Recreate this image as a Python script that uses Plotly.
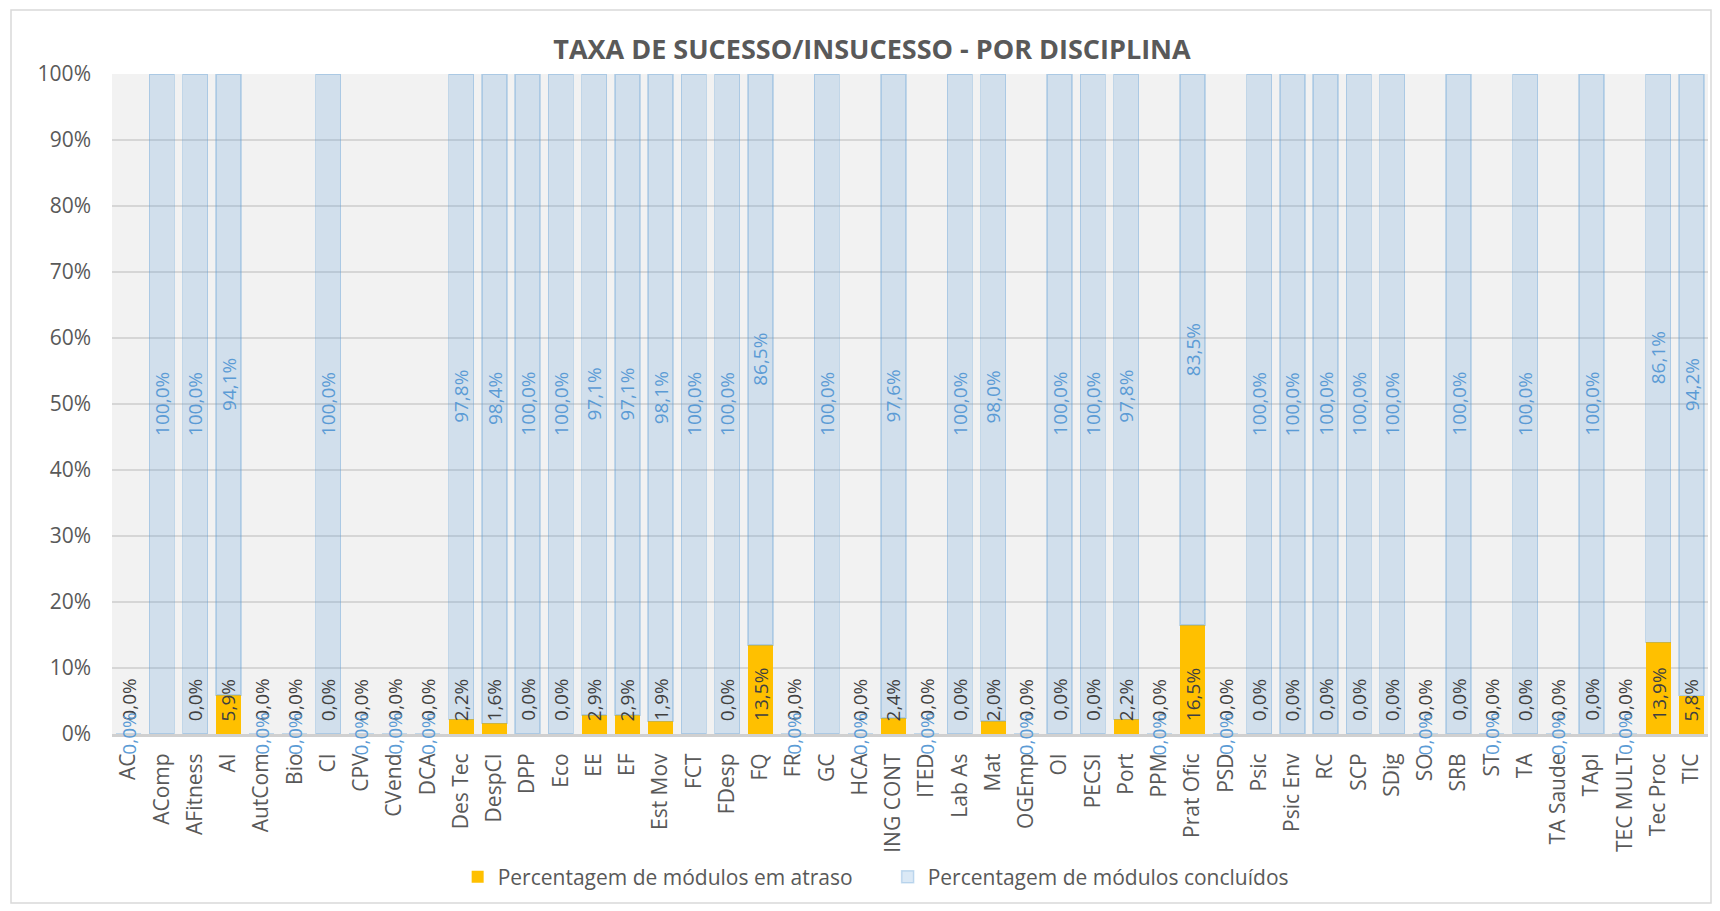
import plotly.graph_objects as go

categorias = ["AC", "AComp", "AFitness", "AI", "AutCom", "Bio", "CI", "CPV", "CVend", "DCA",
              "Des Tec", "DespCI", "DPP", "Eco", "EE", "EF", "Est Mov", "FCT", "FDesp", "FQ",
              "FR", "GC", "HCA", "ING CONT", "ITED", "Lab As", "Mat", "OGEmp", "OI", "PECSI",
              "Port", "PPM", "Prat Ofic", "PSD", "Psic", "Psic Env", "RC", "SCP", "SDig", "SO",
              "SRB", "ST", "TA", "TA Saude", "TApl", "TEC MULT", "Tec Proc", "TIC"]

atraso = [0.0, None, 0.0, 5.9, 0.0, 0.0, 0.0, 0.0, 0.0, 0.0,
          2.2, 1.6, 0.0, 0.0, 2.9, 2.9, 1.9, None, 0.0, 13.5,
          0.0, None, 0.0, 2.4, 0.0, 0.0, 2.0, 0.0, 0.0, 0.0,
          2.2, 0.0, 16.5, 0.0, 0.0, 0.0, 0.0, 0.0, 0.0, 0.0,
          0.0, 0.0, 0.0, 0.0, 0.0, 0.0, 13.9, 5.8]

concluidos = [0.0, 100.0, 100.0, 94.1, 0.0, 0.0, 100.0, 0.0, 0.0, 0.0,
              97.8, 98.4, 100.0, 100.0, 97.1, 97.1, 98.1, 100.0, 100.0, 86.5,
              0.0, 100.0, 0.0, 97.6, 0.0, 100.0, 98.0, 0.0, 100.0, 100.0,
              97.8, 0.0, 83.5, 0.0, 100.0, 100.0, 100.0, 100.0, 100.0, 0.0,
              100.0, 0.0, 100.0, 0.0, 100.0, 0.0, 86.1, 94.2]

yticks = [0, 10, 20, 30, 40, 50, 60, 70, 80, 90, 100]
ytick_labels = [f"{v}%" for v in yticks]

FONT = "Open Sans"
GREY = "#595959"
BLUE = "#5B9BD5"

W, H = 1712, 903
L, R, T, B = 104, 12, 66, 177
PW, PH = W - L - R, H - T - B


def fmt(v):
    return f"{v:.1f}".replace(".", ",") + "%"


fig = go.Figure()
fig.add_trace(go.Bar(
    x=categorias, y=[v if v is not None else 0 for v in atraso],
    name="Percentagem de módulos em atraso",
    marker=dict(color="#FFC000", line=dict(width=0)),
))
fig.add_trace(go.Bar(
    x=categorias, y=concluidos,
    name="Percentagem de módulos concluídos",
    marker=dict(color="rgba(91,155,213,0.22)",
                line=dict(color="rgba(91,155,213,0.32)", width=1.5)),
))

annotations = []
for c, a, k in zip(categorias, atraso, concluidos):
    if a is not None:
        annotations.append(dict(
            x=c, y=0, xref="x", yref="y", text=fmt(a), showarrow=False,
            textangle=-90, yanchor="bottom", xanchor="center", yshift=11,
            font=dict(family=FONT, size=19, color="#404040"),
        ))
for c, a, k in zip(categorias, atraso, concluidos):
    base = a if a is not None else 0
    annotations.append(dict(
        x=c, y=base + k / 2, xref="x", yref="y", text=fmt(k), showarrow=False,
        textangle=-90, yanchor="middle", xanchor="center",
        font=dict(family=FONT, size=19, color=BLUE),
    ))

fig.update_layout(
    width=W, height=H,
    margin=dict(l=L, r=R, t=T, b=B),
    barmode="stack", bargap=0.25,
    paper_bgcolor="white", plot_bgcolor="#F2F2F2",
    font=dict(family=FONT, size=21, color=GREY),
    title=dict(text="<b>TAXA DE SUCESSO/INSUCESSO - POR DISCIPLINA</b>",
               x=864 / W, xanchor="center", y=1 - 42 / H, yanchor="middle",
               font=dict(family=FONT, size=27, color=GREY)),
    legend=dict(orientation="h", x=0.486, xanchor="center", y=-(869 - 726) / PH,
                yanchor="middle", entrywidth=385, entrywidthmode="pixels",
                font=dict(family=FONT, size=21, color=GREY), traceorder="normal",
                itemwidth=30, bgcolor="rgba(0,0,0,0)"),
    annotations=annotations,
    shapes=[dict(type="rect", xref="paper", yref="paper",
                 x0=(3 - L) / PW, x1=(1703 - L) / PW,
                 y0=-(895 - (T + PH)) / PH, y1=((T + PH) - 2) / PH,
                 line=dict(color="#D9D9D9", width=1.5), fillcolor="rgba(0,0,0,0)",
                 layer="below")],
)
fig.update_xaxes(
    type="category", tickangle=-90, showgrid=False, ticks="",
    showline=True, linecolor="#D0D0D0", linewidth=3,
    tickfont=dict(family=FONT, size=21, color=GREY), ticklabelstandoff=8,
)
fig.update_yaxes(
    range=[0, 100], tickvals=yticks, ticktext=ytick_labels,
    showgrid=True, gridcolor="#D6D6D6", gridwidth=2, zeroline=False,
    tickfont=dict(family=FONT, size=21, color=GREY), ticklabelstandoff=20,
)

fig.write_html("out.html")
